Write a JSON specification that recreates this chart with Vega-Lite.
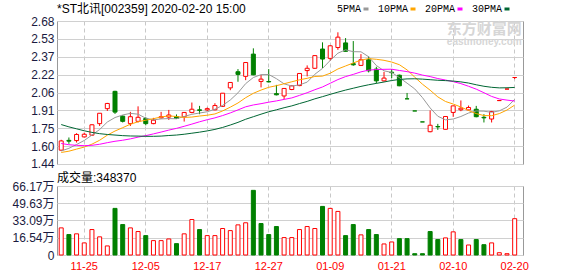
{
"$schema": "https://vega.github.io/schema/vega-lite/v6.json",
"autosize": {"type": "pad"},
"padding": {"left": 11, "top": 2, "right": 0, "bottom": 0},
"background": "white",
"config": {
  "font": "Liberation Sans",
  "view": {"stroke": "#999999", "strokeWidth": 1},
  "axis": {"labelFont": "Liberation Sans, Noto Sans CJK SC", "labelFontSize": 12, "labelColor": "#1a1a40", "ticks": false, "domain": false, "gridColor": "#d0d0d0", "gridWidth": 1, "labelFlush": false, "labelOverlap": false, "title": null}
},
"datasets": {"k": [
{"date":"11-20","open":1.56,"high":1.65,"low":1.555,"close":1.64,"vol":260000,"dir":"up","vdir":"up","5PMA":1.553,"10PMA":1.540,"20PMA":1.618,"30PMA":1.782},
{"date":"11-21","open":1.645,"high":1.67,"low":1.615,"close":1.638,"vol":196000,"dir":"down","vdir":"down","5PMA":1.576,"10PMA":1.551,"20PMA":1.607,"30PMA":1.762},
{"date":"11-22","open":1.643,"high":1.707,"low":1.626,"close":1.696,"vol":203000,"dir":"up","vdir":"up","5PMA":1.609,"10PMA":1.569,"20PMA":1.602,"30PMA":1.745},
{"date":"11-25","open":1.675,"high":1.712,"low":1.67,"close":1.698,"vol":116000,"dir":"up","vdir":"up","5PMA":1.644,"10PMA":1.587,"20PMA":1.599,"30PMA":1.728},
{"date":"11-26","open":1.69,"high":1.785,"low":1.685,"close":1.78,"vol":244000,"dir":"up","vdir":"up","5PMA":1.691,"10PMA":1.612,"20PMA":1.602,"30PMA":1.714},
{"date":"11-27","open":1.79,"high":1.88,"low":1.77,"close":1.88,"vol":174000,"dir":"up","vdir":"up","5PMA":1.739,"10PMA":1.646,"20PMA":1.611,"30PMA":1.703},
{"date":"11-28","open":1.92,"high":1.97,"low":1.90,"close":1.965,"vol":87000,"dir":"up","vdir":"up","5PMA":1.804,"10PMA":1.690,"20PMA":1.625,"30PMA":1.696},
{"date":"11-29","open":2.07,"high":2.075,"low":1.874,"close":1.89,"vol":447000,"dir":"down","vdir":"down","5PMA":1.843,"10PMA":1.726,"20PMA":1.637,"30PMA":1.691},
{"date":"12-02","open":1.855,"high":1.862,"low":1.80,"close":1.81,"vol":292000,"dir":"down","vdir":"down","5PMA":1.865,"10PMA":1.755,"20PMA":1.646,"30PMA":1.686},
{"date":"12-03","open":1.79,"high":1.892,"low":1.77,"close":1.85,"vol":260000,"dir":"up","vdir":"up","5PMA":1.879,"10PMA":1.785,"20PMA":1.658,"30PMA":1.683},
{"date":"12-04","open":1.81,"high":1.94,"low":1.80,"close":1.845,"vol":225000,"dir":"up","vdir":"up","5PMA":1.872,"10PMA":1.806,"20PMA":1.673,"30PMA":1.682},
{"date":"12-05","open":1.835,"high":1.845,"low":1.775,"close":1.79,"vol":186000,"dir":"down","vdir":"down","5PMA":1.837,"10PMA":1.820,"20PMA":1.686,"30PMA":1.680},
{"date":"12-06","open":1.79,"high":1.84,"low":1.785,"close":1.82,"vol":138000,"dir":"up","vdir":"up","5PMA":1.823,"10PMA":1.833,"20PMA":1.701,"30PMA":1.680},
{"date":"12-09","open":1.84,"high":1.892,"low":1.834,"close":1.85,"vol":138000,"dir":"up","vdir":"up","5PMA":1.831,"10PMA":1.848,"20PMA":1.717,"30PMA":1.682},
{"date":"12-10","open":1.847,"high":1.909,"low":1.822,"close":1.865,"vol":154000,"dir":"up","vdir":"up","5PMA":1.834,"10PMA":1.857,"20PMA":1.734,"30PMA":1.687},
{"date":"12-11","open":1.852,"high":1.87,"low":1.83,"close":1.836,"vol":109000,"dir":"down","vdir":"down","5PMA":1.832,"10PMA":1.852,"20PMA":1.749,"30PMA":1.691},
{"date":"12-12","open":1.85,"high":1.89,"low":1.808,"close":1.887,"vol":203000,"dir":"up","vdir":"up","5PMA":1.852,"10PMA":1.844,"20PMA":1.767,"30PMA":1.698},
{"date":"12-13","open":1.887,"high":1.973,"low":1.88,"close":1.915,"vol":340000,"dir":"up","vdir":"up","5PMA":1.871,"10PMA":1.847,"20PMA":1.786,"30PMA":1.707},
{"date":"12-16","open":1.91,"high":1.944,"low":1.872,"close":1.905,"vol":244000,"dir":"down","vdir":"down","5PMA":1.882,"10PMA":1.856,"20PMA":1.806,"30PMA":1.716},
{"date":"12-17","open":1.909,"high":1.93,"low":1.90,"close":1.92,"vol":186000,"dir":"up","vdir":"up","5PMA":1.893,"10PMA":1.863,"20PMA":1.824,"30PMA":1.727},
{"date":"12-18","open":1.91,"high":1.967,"low":1.905,"close":1.947,"vol":186000,"dir":"up","vdir":"up","5PMA":1.915,"10PMA":1.874,"20PMA":1.840,"30PMA":1.740},
{"date":"12-19","open":1.94,"high":2.054,"low":1.935,"close":2.054,"vol":254000,"dir":"up","vdir":"up","5PMA":1.948,"10PMA":1.900,"20PMA":1.860,"30PMA":1.757},
{"date":"12-20","open":2.10,"high":2.15,"low":2.08,"close":2.147,"vol":234000,"dir":"up","vdir":"up","5PMA":1.995,"10PMA":1.933,"20PMA":1.883,"30PMA":1.778},
{"date":"12-23","open":2.24,"high":2.263,"low":2.153,"close":2.217,"vol":289000,"dir":"down","vdir":"up","5PMA":2.057,"10PMA":1.969,"20PMA":1.909,"30PMA":1.801},
{"date":"12-24","open":2.20,"high":2.322,"low":2.167,"close":2.32,"vol":309000,"dir":"up","vdir":"up","5PMA":2.137,"10PMA":2.015,"20PMA":1.936,"30PMA":1.828},
{"date":"12-25","open":2.393,"high":2.443,"low":2.21,"close":2.213,"vol":620000,"dir":"down","vdir":"down","5PMA":2.190,"10PMA":2.053,"20PMA":1.952,"30PMA":1.850},
{"date":"12-26","open":2.156,"high":2.211,"low":2.104,"close":2.176,"vol":302000,"dir":"up","vdir":"down","5PMA":2.215,"10PMA":2.081,"20PMA":1.963,"30PMA":1.872},
{"date":"12-27","open":2.155,"high":2.263,"low":2.147,"close":2.152,"vol":196000,"dir":"down","vdir":"down","5PMA":2.216,"10PMA":2.105,"20PMA":1.976,"30PMA":1.893},
{"date":"12-30","open":2.05,"high":2.126,"low":2.035,"close":2.04,"vol":273000,"dir":"down","vdir":"down","5PMA":2.180,"10PMA":2.119,"20PMA":1.987,"30PMA":1.910},
{"date":"12-31","open":2.03,"high":2.095,"low":2.002,"close":2.095,"vol":167000,"dir":"up","vdir":"up","5PMA":2.135,"10PMA":2.136,"20PMA":2.000,"30PMA":1.928},
{"date":"01-02","open":2.086,"high":2.12,"low":2.08,"close":2.118,"vol":167000,"dir":"up","vdir":"up","5PMA":2.116,"10PMA":2.153,"20PMA":2.013,"30PMA":1.944},
{"date":"01-03","open":2.12,"high":2.225,"low":2.115,"close":2.225,"vol":244000,"dir":"up","vdir":"up","5PMA":2.126,"10PMA":2.170,"20PMA":2.035,"30PMA":1.964},
{"date":"01-06","open":2.25,"high":2.295,"low":2.20,"close":2.27,"vol":273000,"dir":"up","vdir":"up","5PMA":2.150,"10PMA":2.183,"20PMA":2.058,"30PMA":1.983},
{"date":"01-07","open":2.27,"high":2.38,"low":2.265,"close":2.38,"vol":254000,"dir":"up","vdir":"up","5PMA":2.218,"10PMA":2.199,"20PMA":2.084,"30PMA":2.005},
{"date":"01-08","open":2.437,"high":2.495,"low":2.272,"close":2.35,"vol":466000,"dir":"down","vdir":"down","5PMA":2.269,"10PMA":2.202,"20PMA":2.108,"30PMA":2.024},
{"date":"01-09","open":2.356,"high":2.47,"low":2.335,"close":2.465,"vol":447000,"dir":"up","vdir":"up","5PMA":2.338,"10PMA":2.227,"20PMA":2.140,"30PMA":2.044},
{"date":"01-10","open":2.45,"high":2.582,"low":2.43,"close":2.54,"vol":418000,"dir":"up","vdir":"up","5PMA":2.401,"10PMA":2.264,"20PMA":2.172,"30PMA":2.063},
{"date":"01-13","open":2.49,"high":2.532,"low":2.415,"close":2.417,"vol":186000,"dir":"down","vdir":"down","5PMA":2.430,"10PMA":2.290,"20PMA":2.198,"30PMA":2.081},
{"date":"01-14","open":2.31,"high":2.506,"low":2.292,"close":2.30,"vol":292000,"dir":"down","vdir":"down","5PMA":2.414,"10PMA":2.316,"20PMA":2.217,"30PMA":2.097},
{"date":"01-15","open":2.295,"high":2.393,"low":2.29,"close":2.344,"vol":193000,"dir":"up","vdir":"up","5PMA":2.413,"10PMA":2.341,"20PMA":2.239,"30PMA":2.113},
{"date":"01-16","open":2.344,"high":2.373,"low":2.234,"close":2.248,"vol":244000,"dir":"down","vdir":"down","5PMA":2.370,"10PMA":2.354,"20PMA":2.254,"30PMA":2.127},
{"date":"01-17","open":2.263,"high":2.283,"low":2.139,"close":2.161,"vol":196000,"dir":"down","vdir":"down","5PMA":2.294,"10PMA":2.348,"20PMA":2.259,"30PMA":2.139},
{"date":"01-20","open":2.161,"high":2.239,"low":2.155,"close":2.185,"vol":106000,"dir":"up","vdir":"up","5PMA":2.248,"10PMA":2.339,"20PMA":2.261,"30PMA":2.151},
{"date":"01-21","open":2.236,"high":2.263,"low":2.185,"close":2.232,"vol":125000,"dir":"down","vdir":"up","5PMA":2.234,"10PMA":2.324,"20PMA":2.262,"30PMA":2.164},
{"date":"01-22","open":2.21,"high":2.215,"low":2.115,"close":2.118,"vol":157000,"dir":"down","vdir":"down","5PMA":2.189,"10PMA":2.301,"20PMA":2.251,"30PMA":2.173},
{"date":"01-23","open":2.005,"high":2.056,"low":2.005,"close":2.005,"vol":157000,"dir":"down","vdir":"down","5PMA":2.141,"10PMA":2.256,"20PMA":2.241,"30PMA":2.178},
{"date":"02-03","open":1.90,"high":1.90,"low":1.90,"close":1.90,"vol":12500,"dir":"down","vdir":"down","5PMA":2.091,"10PMA":2.193,"20PMA":2.228,"30PMA":2.179},
{"date":"02-04","open":1.805,"high":1.805,"low":1.805,"close":1.805,"vol":12500,"dir":"down","vdir":"down","5PMA":2.016,"10PMA":2.132,"20PMA":2.211,"30PMA":2.176},
{"date":"02-05","open":1.72,"high":1.904,"low":1.715,"close":1.776,"vol":225000,"dir":"up","vdir":"down","5PMA":1.926,"10PMA":2.080,"20PMA":2.198,"30PMA":2.171},
{"date":"02-06","open":1.765,"high":1.788,"low":1.736,"close":1.762,"vol":148000,"dir":"down","vdir":"down","5PMA":1.854,"10PMA":2.022,"20PMA":2.181,"30PMA":2.166},
{"date":"02-07","open":1.741,"high":1.855,"low":1.74,"close":1.852,"vol":164000,"dir":"up","vdir":"up","5PMA":1.823,"10PMA":1.982,"20PMA":2.168,"30PMA":2.163},
{"date":"02-10","open":1.887,"high":1.944,"low":1.849,"close":1.944,"vol":222000,"dir":"up","vdir":"up","5PMA":1.830,"10PMA":1.960,"20PMA":2.154,"30PMA":2.159},
{"date":"02-11","open":1.91,"high":1.991,"low":1.898,"close":1.924,"vol":148000,"dir":"up","vdir":"down","5PMA":1.852,"10PMA":1.934,"20PMA":2.137,"30PMA":2.152},
{"date":"02-12","open":1.909,"high":1.947,"low":1.905,"close":1.93,"vol":96000,"dir":"up","vdir":"up","5PMA":1.882,"10PMA":1.904,"20PMA":2.114,"30PMA":2.142},
{"date":"02-13","open":1.915,"high":1.944,"low":1.845,"close":1.85,"vol":148000,"dir":"down","vdir":"down","5PMA":1.900,"10PMA":1.877,"20PMA":2.089,"30PMA":2.127},
{"date":"02-14","open":1.845,"high":1.872,"low":1.80,"close":1.84,"vol":99000,"dir":"down","vdir":"down","5PMA":1.898,"10PMA":1.860,"20PMA":2.058,"30PMA":2.114},
{"date":"02-17","open":1.83,"high":1.90,"low":1.80,"close":1.895,"vol":116000,"dir":"up","vdir":"up","5PMA":1.888,"10PMA":1.859,"20PMA":2.026,"30PMA":2.105},
{"date":"02-18","open":1.99,"high":1.99,"low":1.99,"close":1.99,"vol":22000,"dir":"up","vdir":"up","5PMA":1.901,"10PMA":1.877,"20PMA":2.004,"30PMA":2.100},
{"date":"02-19","open":2.09,"high":2.09,"low":2.09,"close":2.09,"vol":12500,"dir":"up","vdir":"up","5PMA":1.933,"10PMA":1.908,"20PMA":1.994,"30PMA":2.101},
{"date":"02-20","open":2.19,"high":2.19,"low":2.176,"close":2.19,"vol":348370,"dir":"up","vdir":"up","5PMA":2.001,"10PMA":1.951,"20PMA":1.986,"30PMA":2.104}
]},
"spacing": 0,
"vconcat": [
{
  "width": 466, "height": 143,
  "title": {"text": "*ST北讯[002359] 2020-02-20 15:00", "anchor": "start", "frame": "group", "font": "Liberation Sans, Noto Sans CJK SC", "fontSize": 12, "fontWeight": "normal", "color": "#000000", "offset": -0.5},
  "layer": [
    {
      "data": {"name": "k"},
      "mark": {"type": "rule", "strokeWidth": 1},
      "encoding": {
        "x": {"field": "date", "type": "ordinal", "sort": null, "scale": {"type": "band", "paddingInner": 0, "paddingOuter": 0.315, "align": 0.075},
              "axis": {"labels": false, "grid": true, "gridDash": [4, 3], "gridColor": "#c8c8c8", "bandPosition": 0.5, "values": ["11-25","12-05","12-17","12-27","01-09","01-21","02-10","02-20"]}},
        "y": {"field": "low", "type": "quantitative", "scale": {"domain": [1.44, 2.68], "nice": false, "zero": false},
              "axis": {"values": [2.6799, 2.5255, 2.37, 2.2155, 2.06, 1.9055, 1.75, 1.5955, 1.4401], "tickCount": 30, "format": ".2f", "labelPadding": 3, "grid": true, "labelOverlap": false}},
        "y2": {"field": "high"},
        "stroke": {"field": "dir", "type": "nominal", "scale": {"domain": ["up", "down"], "range": ["#ff0000", "#008000"]}, "legend": null}
      }
    },
    {
      "data": {"name": "k"},
      "mark": {"type": "bar", "width": 4, "strokeWidth": 1},
      "encoding": {
        "x": {"field": "date", "type": "ordinal", "sort": null},
        "y": {"field": "open", "type": "quantitative"},
        "y2": {"field": "close"},
        "stroke": {"field": "dir", "type": "nominal", "legend": null},
        "fill": {"field": "dir", "type": "nominal", "scale": {"domain": ["up", "down"], "range": ["#ffffff", "#008000"]}, "legend": null}
      }
    },
    {
      "data": {"name": "k"},
      "transform": [{"fold": ["5PMA", "10PMA", "20PMA", "30PMA"], "as": ["ma", "value"]}],
      "mark": {"type": "line", "strokeWidth": 1},
      "encoding": {
        "x": {"field": "date", "type": "ordinal", "sort": null},
        "y": {"field": "value", "type": "quantitative"},
        "color": {"field": "ma", "type": "nominal", "sort": ["5PMA", "10PMA", "20PMA", "30PMA"],
                  "scale": {"domain": ["5PMA", "10PMA", "20PMA", "30PMA"], "range": ["#999999", "#ffa500", "#ff00ff", "#006633"]},
                  "legend": {"title": null, "orient": "none", "legendX": 304, "legendY": -17, "direction": "horizontal",
                             "labelFont": "Liberation Mono", "labelFontSize": 10, "labelColor": "#000000",
                             "symbolType": "stroke", "symbolSize": 25, "symbolStrokeWidth": 3,
                             "labelAlign": "right", "labelOffset": -10, "columnPadding": 2, "labelLimit": 0}}
      }
    },
    {
      "data": {"values": [{}]},
      "mark": {"type": "text", "text": "东方财富网", "align": "right", "baseline": "alphabetic", "font": "Noto Sans CJK SC", "fontSize": 15, "fontWeight": "bold", "color": "#d6d6d6", "dx": 7},
      "encoding": {"x": {"datum": "02-20"}, "y": {"datum": 2.57}}
    },
    {
      "data": {"values": [{}]},
      "mark": {"type": "text", "text": "eastmoney.com", "align": "right", "baseline": "alphabetic", "font": "Liberation Sans", "fontSize": 10, "fontWeight": "bold", "color": "#d6d6d6", "dx": 7},
      "encoding": {"x": {"datum": "02-20"}, "y": {"datum": 2.468}}
    }
  ]
},
{
  "width": 466, "height": 69,
  "title": {"text": "成交量:348370", "anchor": "start", "frame": "group", "font": "Liberation Sans, Noto Sans CJK SC", "fontSize": 12, "fontWeight": "normal", "color": "#000000", "offset": -5},
  "data": {"name": "k"},
  "mark": {"type": "bar", "width": 4, "strokeWidth": 1},
  "encoding": {
    "x": {"field": "date", "type": "ordinal", "sort": null, "scale": {"type": "band", "paddingInner": 0, "paddingOuter": 0.315, "align": 0.075},
          "axis": {"labels": true, "labelAngle": 0, "labelColor": "#ff0000", "labelFontSize": 11, "labelPadding": 5, "grid": true, "gridDash": [4, 3], "gridColor": "#c8c8c8", "bandPosition": 0.5, "values": ["11-25","12-05","12-17","12-27","01-09","01-21","02-10","02-20"]}},
    "y": {"field": "vol", "type": "quantitative", "scale": {"domain": [0, 661700], "nice": false},
          "axis": {"values": [0, 165425, 330860, 496275, 661700], "tickCount": 30, "labelExpr": "datum.value == 0 ? '0' : format(datum.value / 10000, '.2f') + '万'", "labelPadding": 3, "grid": true, "labelOverlap": false}},
    "stroke": {"field": "vdir", "type": "nominal", "scale": {"domain": ["up", "down"], "range": ["#ff0000", "#008000"]}, "legend": null},
    "fill": {"field": "vdir", "type": "nominal", "scale": {"domain": ["up", "down"], "range": ["#ffffff", "#008000"]}, "legend": null}
  }
}
]
}
